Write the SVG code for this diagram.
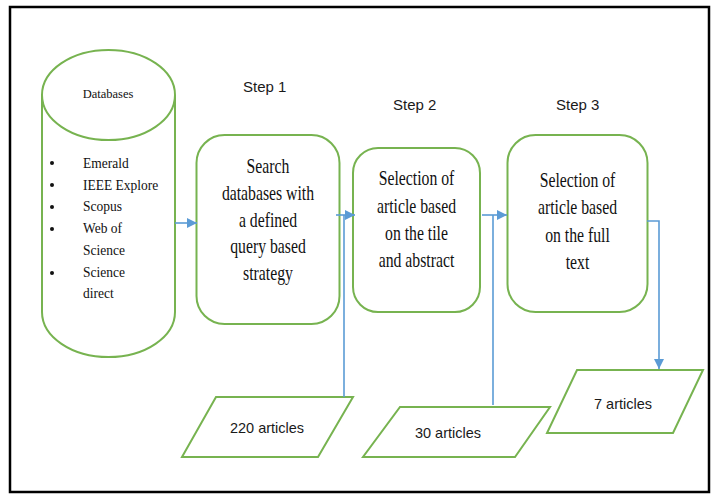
<svg xmlns="http://www.w3.org/2000/svg" width="712" height="495" viewBox="0 0 712 495">
<style>
.g{fill:#fff;stroke:#77B350;stroke-width:2}
.c{fill:none;stroke:#5B9BD5;stroke-width:1.6}
.s{font-family:"Liberation Serif",serif;fill:#111}
.b{font-family:"Liberation Sans",Arial,sans-serif;fill:#1a1a1a}
.m{text-anchor:middle}
</style>
<defs>
<marker id="ah" viewBox="0 0 10 10" refX="10" refY="5" markerWidth="10" markerHeight="10" markerUnits="userSpaceOnUse" orient="auto">
<path d="M0,0 L10,5 L0,10 Z" fill="#5B9BD5"/>
</marker>
</defs>
<rect x="10" y="7" width="699" height="485" fill="#fff" stroke="#000" stroke-width="2.5"/>

<g id="databases">
<path class="g" d="M42,95 L42,312 A66.5,45 0 0 0 175,312 L175,95"/>
<ellipse class="g" cx="108.5" cy="95" rx="66.5" ry="45"/>
<text class="s m" x="108" y="98" font-size="12.5">Databases</text>
<g fill="#111">
<circle cx="52" cy="163" r="2"/><circle cx="52" cy="185" r="2"/><circle cx="52" cy="207" r="2"/><circle cx="52" cy="229" r="2"/><circle cx="52" cy="273" r="2"/>
</g>
<g class="s" font-size="15" transform="translate(83,0) scale(0.9,1)">
<text x="0" y="168">Emerald</text>
<text x="0" y="190">IEEE Explore</text>
<text x="0" y="211">Scopus</text>
<text x="0" y="233">Web of</text>
<text x="0" y="255">Science</text>
<text x="0" y="277">Science</text>
<text x="0" y="298">direct</text>
</g>
</g>

<g id="step1-label"><text class="b" x="243" y="92" font-size="15">Step 1</text></g>
<g id="step2-label"><text class="b" x="393" y="110" font-size="15">Step 2</text></g>
<g id="step3-label"><text class="b" x="556" y="110" font-size="15">Step 3</text></g>

<g id="step1">
<rect class="g" x="196.5" y="135" width="143" height="189" rx="28"/>
<g class="s m" font-size="21" transform="translate(268,0) scale(0.75,1)">
<text x="0" y="173">Search</text>
<text x="0" y="200">databases  with</text>
<text x="0" y="227">a defined</text>
<text x="0" y="253">query based</text>
<text x="0" y="280">strategy</text>
</g>
</g>

<g id="step2">
<rect class="g" x="353" y="148" width="127" height="164" rx="25"/>
<g class="s m" font-size="21" transform="translate(416.5,0) scale(0.75,1)">
<text x="0" y="185">Selection  of</text>
<text x="0" y="213">article  based</text>
<text x="0" y="240">on the tile</text>
<text x="0" y="267">and abstract</text>
</g>
</g>

<g id="step3">
<rect class="g" x="507.5" y="135" width="140" height="177" rx="28"/>
<g class="s m" font-size="21" transform="translate(577.5,0) scale(0.75,1)">
<text x="0" y="187">Selection  of</text>
<text x="0" y="214">article  based</text>
<text x="0" y="242">on the full</text>
<text x="0" y="269">text</text>
</g>
</g>

<g id="out220">
<polygon class="g" points="216,397 353,397 318,457 182,457"/>
<text class="b m" x="267" y="433" font-size="14.5">220 articles</text>
</g>
<g id="out30">
<polygon class="g" points="400,407 550,407 515,457 363,457"/>
<text class="b m" x="448" y="438" font-size="14.5">30 articles</text>
</g>
<g id="out7">
<polygon class="g" points="577,370 703,370 673,433 547,433"/>
<text class="b m" x="623" y="409" font-size="14.5">7 articles</text>
</g>

<g id="connectors">
<line class="c" x1="175" y1="223" x2="197" y2="223" marker-end="url(#ah)"/>
<line class="c" x1="336" y1="215" x2="355" y2="215" marker-end="url(#ah)"/>
<line class="c" x1="344" y1="215" x2="344" y2="397"/>
<line class="c" x1="482" y1="215" x2="507" y2="215" marker-end="url(#ah)"/>
<line class="c" x1="493" y1="215" x2="493" y2="405"/>
<polyline class="c" points="647,221 659,221 659,369" marker-end="url(#ah)"/>
</g>
</svg>
